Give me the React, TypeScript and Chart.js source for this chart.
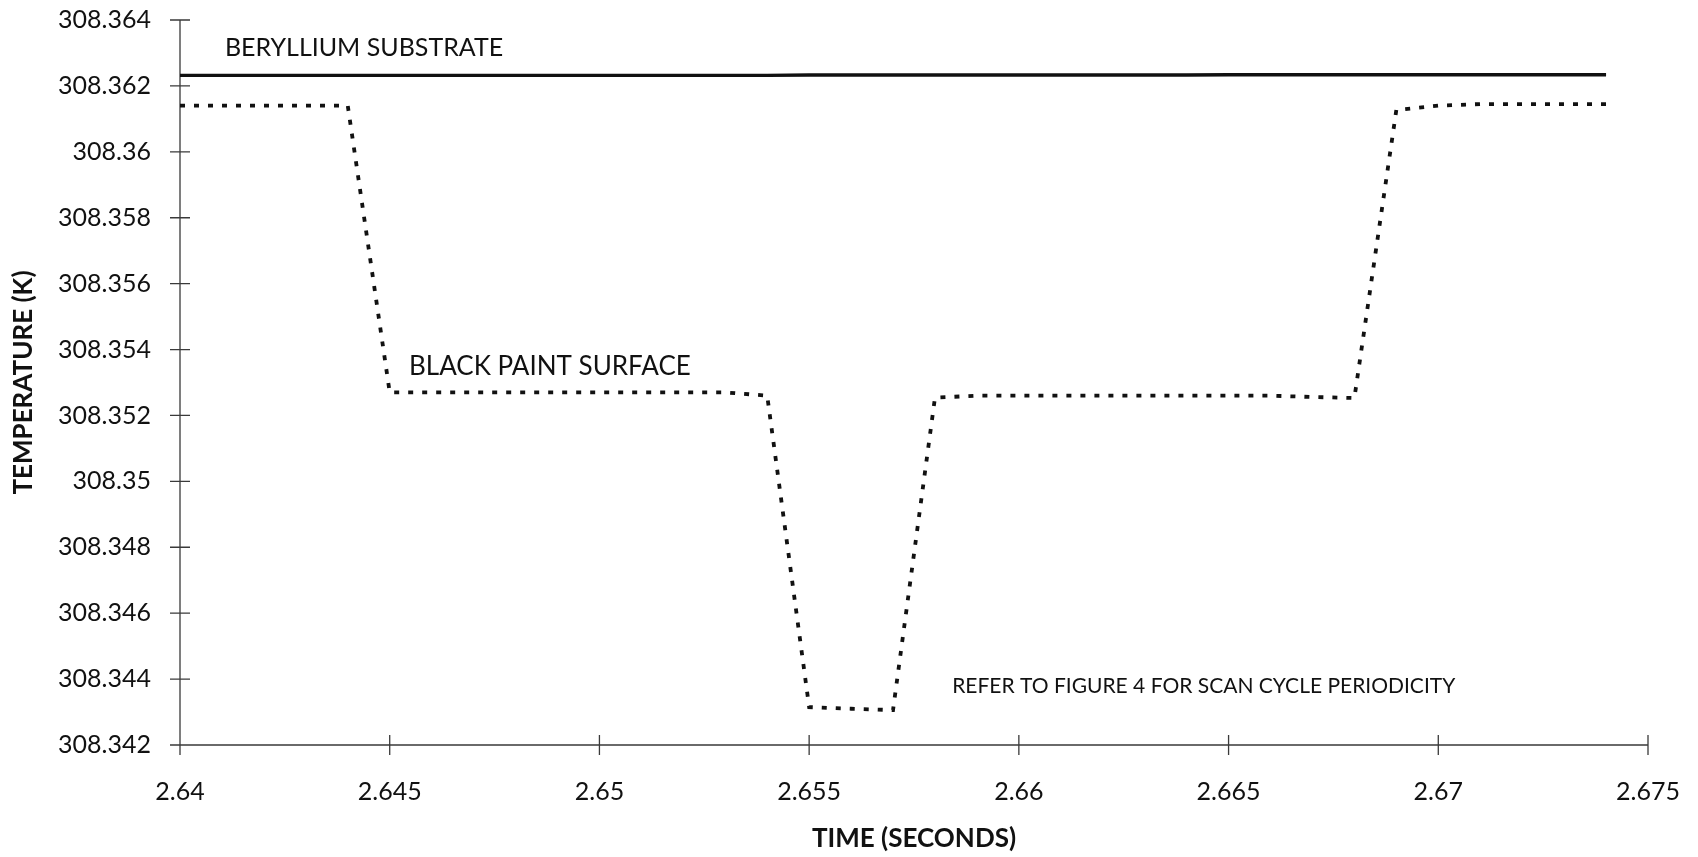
import React, { useEffect, useRef } from 'react';
import { Chart, registerables } from 'chart.js';

Chart.register(...registerables);

// ---- Data ----
const TIME = [
  2.640, 2.641, 2.642, 2.643, 2.644, 2.645, 2.646, 2.647, 2.648, 2.649,
  2.650, 2.651, 2.652, 2.653, 2.654, 2.655, 2.656, 2.657, 2.658, 2.659,
  2.660, 2.661, 2.662, 2.663, 2.664, 2.665, 2.666, 2.667, 2.668, 2.669,
  2.670, 2.671, 2.672, 2.673, 2.674,
];

const BERYLLIUM = [
  308.36232, 308.36232, 308.36232, 308.36232, 308.36232, 308.36232, 308.36232, 308.36232, 308.36232, 308.36232,
  308.36232, 308.36232, 308.36232, 308.36232, 308.36232, 308.36233, 308.36233, 308.36233, 308.36233, 308.36233,
  308.36233, 308.36233, 308.36233, 308.36233, 308.36233, 308.36234, 308.36234, 308.36234, 308.36234, 308.36234,
  308.36234, 308.36234, 308.36234, 308.36234, 308.36234,
];

const BLACK_PAINT = [
  308.3614, 308.3614, 308.3614, 308.3614, 308.3614, 308.3527, 308.3527, 308.3527, 308.3527, 308.3527,
  308.3527, 308.3527, 308.3527, 308.3527, 308.3526, 308.34315, 308.3431, 308.34306, 308.35254, 308.3526,
  308.3526, 308.3526, 308.3526, 308.3526, 308.3526, 308.3526, 308.3526, 308.35256, 308.35253, 308.36127,
  308.3614, 308.36145, 308.36145, 308.36145, 308.36145,
];

const X_TICKS = [2.64, 2.645, 2.65, 2.655, 2.66, 2.665, 2.67, 2.675];
const X_TICK_LABELS = ['2.64', '2.645', '2.65', '2.655', '2.66', '2.665', '2.67', '2.675'];
const Y_TICKS = [
  308.342, 308.344, 308.346, 308.348, 308.35, 308.352,
  308.354, 308.356, 308.358, 308.36, 308.362, 308.364,
];
const Y_TICK_LABELS = [
  '308.342', '308.344', '308.346', '308.348', '308.35', '308.352',
  '308.354', '308.356', '308.358', '308.36', '308.362', '308.364',
];

const X_TITLE = 'TIME (SECONDS)';
const Y_TITLE = 'TEMPERATURE (K)';

const NOTE_TEXTS = [
  'BERYLLIUM SUBSTRATE',
  'BLACK PAINT SURFACE',
  'REFER TO FIGURE 4 FOR SCAN CYCLE PERIODICITY',
];
const NOTE_X = [2.64107, 2.64546, 2.65841];
const NOTE_Y = [308.36315, 308.35347, 308.34379];

// ---- Styles ----
const FONT = 'Lato, "Open Sans", sans-serif';
const INK = '#111111';
const AXIS_INK = '#3a3a3a';
const NOTE_FONTS = ['25px ' + FONT, '26px ' + FONT, '21px ' + FONT];
const TICK_HALF = 10;

const crossAxesPlugin = {
  id: 'crossAxes',
  beforeDatasetsDraw(chart: any) {
    const { ctx } = chart;
    const xs = chart.scales.x;
    const ys = chart.scales.y;
    const x0 = xs.getPixelForValue(X_TICKS[0]);
    const x1 = xs.getPixelForValue(X_TICKS[X_TICKS.length - 1]);
    const y0 = ys.getPixelForValue(Y_TICKS[0]);
    const y1 = ys.getPixelForValue(Y_TICKS[Y_TICKS.length - 1]);
    ctx.save();
    ctx.strokeStyle = AXIS_INK;
    ctx.lineWidth = 1.3;
    ctx.beginPath();
    ctx.moveTo(x0, y1);
    ctx.lineTo(x0, y0 + TICK_HALF);
    ctx.moveTo(x0 - TICK_HALF, y0);
    ctx.lineTo(x1, y0);
    Y_TICKS.forEach((v) => {
      const y = ys.getPixelForValue(v);
      ctx.moveTo(x0 - TICK_HALF, y);
      ctx.lineTo(x0 + TICK_HALF, y);
    });
    X_TICKS.forEach((v) => {
      const x = xs.getPixelForValue(v);
      ctx.moveTo(x, y0 - TICK_HALF);
      ctx.lineTo(x, y0 + TICK_HALF);
    });
    ctx.stroke();
    ctx.restore();
  },
};

const notesPlugin = {
  id: 'notes',
  afterDatasetsDraw(chart: any) {
    const { ctx } = chart;
    const xs = chart.scales.x;
    const ys = chart.scales.y;
    ctx.save();
    ctx.fillStyle = INK;
    ctx.textAlign = 'left';
    ctx.textBaseline = 'middle';
    NOTE_TEXTS.forEach((t, i) => {
      ctx.font = NOTE_FONTS[i];
      ctx.fillText(t, xs.getPixelForValue(NOTE_X[i]), ys.getPixelForValue(NOTE_Y[i]));
    });
    ctx.restore();
  },
};

export default function App() {
  const canvasRef = useRef<HTMLCanvasElement | null>(null);

  useEffect(() => {
    const canvas = canvasRef.current;
    if (!canvas) return;
    const chart = new Chart(canvas, {
      type: 'line',
      data: {
        datasets: [
          {
            label: 'Beryllium substrate',
            data: TIME.map((t, i) => ({ x: t, y: BERYLLIUM[i] })),
            borderColor: INK,
            borderWidth: 3.4,
            pointRadius: 0,
            tension: 0,
            fill: false,
          },
          {
            label: 'Black paint surface',
            data: TIME.map((t, i) => ({ x: t, y: BLACK_PAINT[i] })),
            borderColor: INK,
            borderWidth: 3.8,
            borderDash: [5, 9],
            borderCapStyle: 'butt',
            pointRadius: 0,
            tension: 0,
            fill: false,
          },
        ],
      },
      options: {
        responsive: false,
        animation: false,
        events: [],
        layout: { padding: { top: 20, right: 50, left: 0, bottom: 0 } },
        plugins: {
          legend: { display: false },
          tooltip: { enabled: false },
          title: { display: false },
        },
        scales: {
          x: {
            type: 'linear',
            min: X_TICKS[0],
            max: X_TICKS[X_TICKS.length - 1],
            grid: { display: false, drawTicks: false, tickLength: 0 },
            border: { display: false },
            afterBuildTicks: (scale: any) => {
              scale.ticks = X_TICKS.map((v) => ({ value: v }));
            },
            afterFit: (scale: any) => {
              scale.height = 112;
              scale.paddingLeft = 0;
              scale.paddingRight = 0;
            },
            ticks: {
              autoSkip: false,
              maxRotation: 0,
              padding: 32,
              color: INK,
              font: { family: FONT, size: 25 },
              callback: (_v: any, i: number) => X_TICK_LABELS[i],
            },
            title: {
              display: true,
              text: X_TITLE,
              color: INK,
              font: { family: FONT, size: 26, weight: 'bold' },
              padding: { top: 0, bottom: 2.5 },
            },
          },
          y: {
            type: 'linear',
            min: Y_TICKS[0],
            max: Y_TICKS[Y_TICKS.length - 1],
            grid: { display: false, drawTicks: false, tickLength: 0 },
            border: { display: false },
            afterBuildTicks: (scale: any) => {
              scale.ticks = Y_TICKS.map((v) => ({ value: v }));
            },
            afterFit: (scale: any) => {
              scale.width = 180;
              scale.paddingTop = 0;
              scale.paddingBottom = 0;
            },
            ticks: {
              autoSkip: false,
              padding: 29,
              color: INK,
              font: { family: FONT, size: 25 },
              callback: (_v: any, i: number) => Y_TICK_LABELS[i],
            },
            title: {
              display: true,
              text: Y_TITLE,
              color: INK,
              font: { family: FONT, size: 26, weight: 'bold' },
              padding: { top: 8, bottom: 0 },
            },
          },
        },
      } as any,
      plugins: [crossAxesPlugin, notesPlugin],
    });
    return () => chart.destroy();
  }, []);

  return (
    <canvas
      ref={canvasRef}
      width={1698}
      height={857}
      style={{ position: 'fixed', left: 0, top: 0, width: 1698, height: 857, background: '#ffffff' }}
    />
  );
}
